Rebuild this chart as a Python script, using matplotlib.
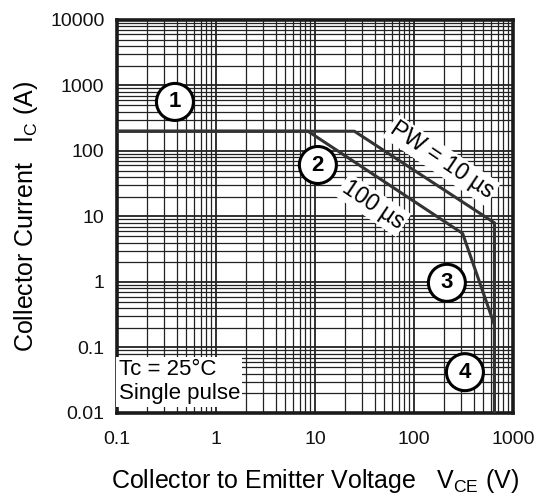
import matplotlib.pyplot as plt
from matplotlib.ticker import LogLocator, NullFormatter, FixedLocator

plt.rcParams['font.family'] = ['Liberation Sans', 'DejaVu Sans']

# safe operating area data
vce_10us = [0.1, 25, 650, 650]
ic_10us = [200, 200, 8, 0.01]
vce_100us = [0.1, 8.5, 310, 650, 650]
ic_100us = [200, 200, 5.5, 0.22, 0.01]

x_ticks = [0.1, 1, 10, 100, 1000]
x_labels = ['0.1', '1', '10', '100', '1000']
y_ticks = [0.01, 0.1, 1, 10, 100, 1000, 10000]
y_labels = ['0.01', '0.1', '1', '10', '100', '1000', '10000']

fig = plt.figure(figsize=(5.51, 4.98), dpi=100)
ax = fig.add_axes([0.2123, 0.1707, 0.7187, 0.7893])
ax.set_xscale('log')
ax.set_yscale('log')
ax.set_xlim(0.1, 1000)
ax.set_ylim(0.01, 10000)

ax.xaxis.set_major_locator(FixedLocator(x_ticks))
ax.yaxis.set_major_locator(FixedLocator(y_ticks))
ax.set_xticklabels(x_labels)
ax.set_yticklabels(y_labels)
ax.xaxis.set_minor_locator(LogLocator(base=10, subs=range(2, 10)))
ax.yaxis.set_minor_locator(LogLocator(base=10, subs=range(2, 10)))
ax.xaxis.set_minor_formatter(NullFormatter())
ax.yaxis.set_minor_formatter(NullFormatter())
ax.tick_params(which='both', length=0, labelsize=14, colors='#111')
ax.tick_params(axis='x', pad=13)
ax.tick_params(axis='y', pad=9)

ax.grid(True, which='major', color='#222', lw=1.3)
ax.grid(True, which='minor', color='#222', lw=0.9)
ax.set_axisbelow(True)
for s in ax.spines.values():
    s.set_linewidth(2.6)
    s.set_color('#1a1a1a')

ax.plot(vce_10us, ic_10us, color='#333', lw=2.2, zorder=3)
ax.plot(vce_100us, ic_100us, color='#333', lw=2.2, zorder=3)

white_box = dict(boxstyle='square,pad=0.1', fc='white', ec='none')
ax.text(190, 72, 'PW = 10 µs', rotation=-34, fontsize=16.5, ha='center', va='center',
        bbox=white_box, zorder=4)
ax.text(38.5, 15, '100 µs', rotation=-34, fontsize=16.5, ha='center', va='center',
        bbox=white_box, zorder=4)

circle = dict(boxstyle='circle,pad=0.36', fc='white', ec='black', lw=2.2)
for lbl, x, y in [('1', 0.385, 560), ('2', 10.7, 61), ('3', 215, 0.97), ('4', 327, 0.042)]:
    ax.text(x, y, lbl, fontsize=16, fontweight='bold', ha='center', va='center',
            bbox=circle, zorder=5)

ax.text(0.104, 0.0135, 'Tc = 25°C\nSingle pulse', fontsize=16, ha='left', va='bottom',
        linespacing=1.2, bbox=dict(boxstyle='square,pad=0.1', fc='white', ec='none'), zorder=4)

ax.set_xlabel('Collector to Emitter Voltage   V$_{\\mathregular{CE}}$ (V)', fontsize=18, labelpad=14)
ax.set_ylabel('Collector Current   I$_{\\mathregular{C}}$ (A)', fontsize=18)
ax.yaxis.set_label_coords(-0.195, 0.5)

fig.savefig('out.png', dpi=100)
